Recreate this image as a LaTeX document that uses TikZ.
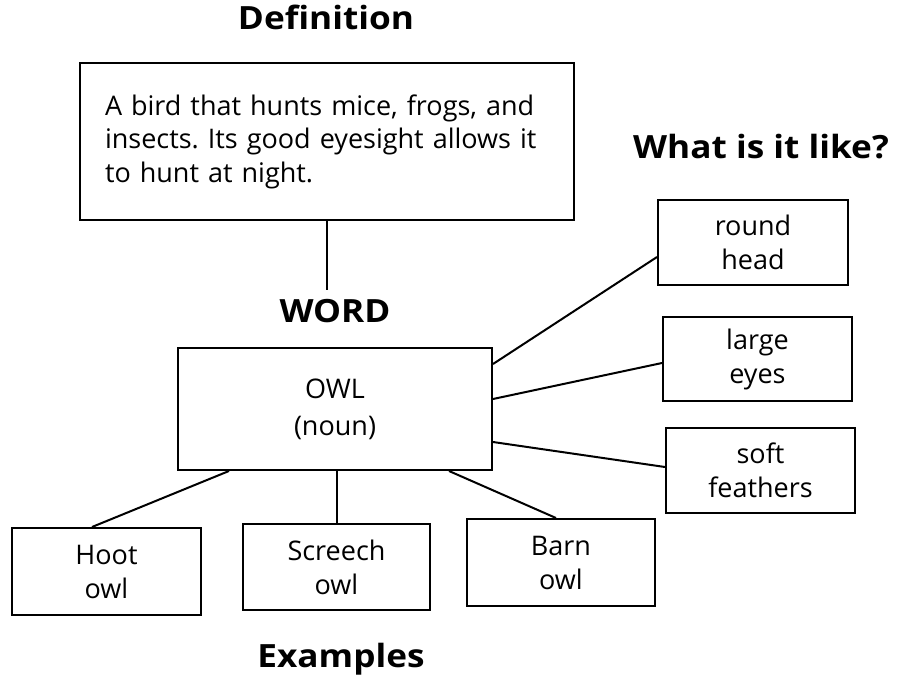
\documentclass[tikz,border=0pt]{standalone}
\usepackage{fontspec}
\setmainfont{Open Sans}
\newfontfamily\ttlfont[FakeStretch=1.1]{Open Sans}
\frenchspacing
\usetikzlibrary{calc}
\begin{document}
\begin{tikzpicture}[x=1pt,y=-1pt,
  box/.style={draw, line width=2pt, align=center, inner sep=0pt,
    font=\fontsize{27}{34}\selectfont},
  ttl/.style={inner sep=0pt, anchor=base, font=\ttlfont\fontsize{32}{36}\selectfont\bfseries},
  link/.style={line width=2pt}]
\useasboundingbox[fill=white] (0,0) rectangle (897,677);
% titles
\node[ttl] (deft) at (326,30) {Definition};
\node[ttl] (wordt) at (335,322) {WORD};
\node[ttl] (liket) at (761,158) {What is it like?};
\node[ttl] (exmt) at (341,667) {Examples};
% definition box
\node[box, minimum width=494pt, minimum height=157pt, text width=444pt, align=left,
  font=\fontsize{27}{33.5}\selectfont] (def) at (327,141.5)
  {A bird that hunts mice, frogs, and\\insects. Its good eyesight allows it\\to hunt at night.};
% word box
\node[box, minimum width=314pt, minimum height=122pt, font=\fontsize{27}{37}\selectfont] (owl) at (335,409) {OWL\\(noun)};
% examples
\node[box, minimum width=189pt, minimum height=87pt] (hoot) at (106.5,571.5) {Hoot\\owl};
\node[box, minimum width=187pt, minimum height=86pt] (scr) at (336.5,567) {Screech\\owl};
\node[box, minimum width=188pt, minimum height=87pt] (barn) at (561,562.5) {Barn\\owl};
% what is it like
\node[box, minimum width=190pt, minimum height=85pt] (round) at (753,242.5) {round\\head};
\node[box, minimum width=189pt, minimum height=84pt] (large) at (757.5,359) {large\\eyes};
\node[box, minimum width=189pt, minimum height=85pt] (soft) at (760.5,470.5) {soft\\feathers};
% connectors
\coordinate (wtop) at ($(wordt.north)+(0,-9)$);
\draw[link] (def.south) -- (def.south |- wtop);
\draw[link] ($(owl.south west)+(52,0)$) -- ($(hoot.north west)+(81,0)$);
\draw[link] (scr.north |- owl.south) -- (scr.north);
\draw[link] ($(owl.south east)+(-44,0)$) -- ($(barn.north west)+(90,0)$);
\draw[link] ($(owl.north east)+(0,17)$) -- ($(round.west)+(0,14.5)$);
\draw[link] ($(owl.north east)+(0,52)$) -- ($(large.west)+(0,4)$);
\draw[link] ($(owl.north east)+(0,95)$) -- ($(soft.west)+(0,-3.5)$);
\end{tikzpicture}
\end{document}
